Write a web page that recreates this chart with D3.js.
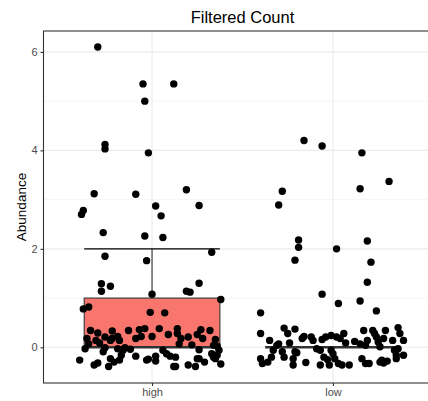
<!DOCTYPE html>
<html>
<head>
<meta charset="utf-8">
<script src="https://cdn.jsdelivr.net/npm/d3@7"></script>
<style>
  body { margin: 0; background: #fff; }
  text { font-family: "Liberation Sans", Arial, sans-serif; }
</style>
</head>
<body>
<svg id="chart" width="428" height="401"></svg>
<script>
/* Boxplot with jittered points: filtered count by group */
let categories = ["high", "low"];
let yTicks = [0, 2, 4, 6];
let yMinor = [1, 3, 5];

// box stats per group: [lower whisker, q1, median, q3, upper whisker]
let boxHigh = [0, 0, 0, 1, 2];
let boxLow = [0, 0, 0, 0, 0];

// jittered points: [horizontal jitter (category units), abundance]
let pointsHigh = [
  [-0.30, 6.10], [-0.05, 5.35], [0.12, 5.35], [-0.04, 5.00], [-0.26, 4.12], [-0.26, 4.03],
  [-0.02, 3.95], [-0.32, 3.12], [-0.09, 3.11], [0.19, 3.20], [-0.38, 2.78], [-0.39, 2.70],
  [0.02, 2.87], [0.26, 2.88], [0.05, 2.67], [-0.27, 2.33], [-0.04, 2.26], [0.06, 2.23],
  [-0.26, 1.85], [-0.03, 1.76], [0.33, 1.93], [-0.28, 1.29], [-0.28, 1.14], [-0.23, 1.24],
  [0.00, 1.08], [0.19, 1.14], [0.21, 1.12], [0.26, 1.30], [0.38, 0.97], [-0.35, 0.82],
  [-0.38, 0.78], [-0.01, 0.71], [0.07, 0.70],
  [-0.34, 0.34], [-0.30, 0.29], [-0.36, 0.18], [-0.35, 0.07], [-0.37, -0.03], [-0.31, 0.14],
  [-0.29, 0.09], [-0.26, 0.21], [-0.26, -0.01], [-0.22, 0.33], [-0.22, 0.18], [-0.19, 0.22],
  [-0.18, 0.14], [-0.23, 0.14], [-0.13, 0.34], [-0.09, 0.18], [-0.07, 0.36], [-0.06, 0.22],
  [-0.04, 0.38], [0.00, 0.22], [0.04, 0.38], [0.09, 0.26], [0.14, 0.38], [0.14, 0.28],
  [0.15, 0.07], [0.16, 0.18], [0.20, 0.21], [0.22, 0.05], [0.25, 0.26], [0.27, 0.36],
  [0.28, 0.18], [0.26, -0.05], [0.32, 0.34], [0.35, 0.16], [0.36, 0.02], [0.37, -0.06],
  [0.34, 0.04],
  [-0.40, -0.26], [-0.32, -0.36], [-0.30, -0.32], [-0.27, -0.09], [-0.24, -0.39], [-0.23, -0.23],
  [-0.21, -0.30], [-0.18, -0.26], [-0.17, -0.16], [-0.16, -0.06], [-0.19, -0.03], [-0.15, -0.01],
  [-0.12, -0.04], [-0.09, -0.18], [-0.03, -0.26], [-0.02, -0.24], [0.02, -0.18], [0.02, -0.28],
  [0.06, -0.06], [0.08, -0.13], [0.10, -0.18], [0.12, -0.39], [0.13, -0.39], [0.13, -0.20],
  [0.20, -0.36], [0.24, -0.39], [0.25, -0.23], [0.26, -0.23], [0.29, -0.30], [0.33, -0.13],
  [0.34, -0.20], [0.35, -0.23], [0.36, -0.16], [0.38, -0.34]
];
let pointsLow = [
  [-0.16, 4.20], [-0.06, 4.09], [0.16, 3.95], [0.31, 3.37], [0.15, 3.22], [-0.28, 3.17],
  [-0.30, 2.89], [-0.19, 2.18], [-0.19, 2.03], [-0.21, 1.77], [0.02, 2.00], [0.19, 2.16],
  [0.21, 1.73], [0.19, 1.32], [-0.06, 1.08], [0.03, 0.89], [0.15, 0.94], [0.24, 0.74],
  [-0.40, 0.70],
  [-0.40, 0.28], [-0.35, 0.14], [-0.40, -0.23], [-0.39, -0.33], [-0.36, -0.30], [-0.34, -0.20],
  [-0.33, -0.06], [-0.31, 0.04], [-0.30, 0.07], [-0.27, 0.39], [-0.24, 0.09], [-0.25, 0.28],
  [-0.21, 0.37], [-0.28, -0.09], [-0.27, -0.20], [-0.22, -0.23], [-0.21, -0.09], [-0.20, -0.11],
  [-0.22, -0.36], [-0.15, -0.31], [-0.17, 0.18], [-0.16, 0.22], [-0.12, 0.21], [-0.11, 0.14],
  [-0.09, -0.03], [-0.07, -0.06], [-0.06, 0.16], [-0.05, -0.20], [-0.07, -0.36], [-0.04, 0.21],
  [-0.03, -0.25], [-0.02, -0.36], [-0.01, 0.24], [-0.01, -0.06], [0.00, -0.13], [0.01, -0.23],
  [0.02, 0.21], [0.04, 0.18], [0.03, -0.33], [0.05, -0.36], [0.06, 0.28], [0.07, 0.09],
  [0.09, -0.36], [0.12, 0.12], [0.15, 0.07], [0.16, -0.23], [0.17, 0.34], [0.18, 0.04],
  [0.19, 0.14], [0.18, -0.33], [0.20, -0.33], [0.22, 0.34], [0.23, 0.28], [0.24, 0.21],
  [0.25, 0.11], [0.26, 0.01], [0.26, -0.30], [0.27, -0.26], [0.28, 0.18], [0.29, 0.34],
  [0.28, -0.32], [0.30, -0.28], [0.33, 0.14], [0.34, -0.06], [0.35, -0.16], [0.36, -0.03],
  [0.36, 0.40], [0.37, 0.28], [0.39, -0.16], [0.39, 0.14], [0.35, -0.23]
];

let svg = d3.select("#chart");

let panelLeft = 43.5, panelRight = 441.5, panelTop = 31, panelBottom = 383;

let x = d3.scalePoint()
    .domain(categories)
    .range([panelLeft, panelRight])
    .padding(0.6);
let step = x.step();

let y = d3.scaleLinear()
    .domain([-0.725, 6.425])
    .range([panelBottom, panelTop]);

// panel grid
let grid = svg.append("g");
grid.selectAll(".minor")
    .data(yMinor)
    .enter().append("line")
    .attr("x1", panelLeft).attr("x2", panelRight)
    .attr("y1", d => y(d)).attr("y2", d => y(d))
    .attr("stroke", "#ebebeb")
    .attr("stroke-width", 0.55);
grid.selectAll(".major")
    .data(yTicks)
    .enter().append("line")
    .attr("x1", panelLeft).attr("x2", panelRight)
    .attr("y1", d => y(d)).attr("y2", d => y(d))
    .attr("stroke", "#ebebeb")
    .attr("stroke-width", 1.1);
grid.selectAll(".vmajor")
    .data(categories)
    .enter().append("line")
    .attr("x1", d => x(d)).attr("x2", d => x(d))
    .attr("y1", panelTop).attr("y2", panelBottom)
    .attr("stroke", "#ebebeb")
    .attr("stroke-width", 1.1);

// boxplots
let boxes = [
  {cat: "high", s: boxHigh, fill: "#F8766D"},
  {cat: "low", s: boxLow, fill: "#00BFC4"}
];
let bw = step * 0.75;
boxes.forEach(function(b) {
    let cx = x(b.cat);
    let g = svg.append("g");
    // whiskers
    g.append("line")
        .attr("x1", cx).attr("x2", cx)
        .attr("y1", y(b.s[3])).attr("y2", y(b.s[4]))
        .attr("stroke", "#333333").attr("stroke-width", 1.1);
    g.append("line")
        .attr("x1", cx).attr("x2", cx)
        .attr("y1", y(b.s[1])).attr("y2", y(b.s[0]))
        .attr("stroke", "#333333").attr("stroke-width", 1.1);
    // error bar cap at upper whisker
    if (b.s[4] > b.s[3]) {
        g.append("line")
            .attr("x1", cx - bw / 2).attr("x2", cx + bw / 2)
            .attr("y1", y(b.s[4])).attr("y2", y(b.s[4]))
            .attr("stroke", "#000").attr("stroke-width", 1.1);
    }
    g.append("rect")
        .attr("x", cx - bw / 2)
        .attr("width", bw)
        .attr("y", y(b.s[3]))
        .attr("height", y(b.s[1]) - y(b.s[3]))
        .attr("fill", b.fill)
        .attr("stroke", "#333333")
        .attr("stroke-width", 1.1);
    g.append("line")
        .attr("x1", cx - bw / 2).attr("x2", cx + bw / 2)
        .attr("y1", y(b.s[2])).attr("y2", y(b.s[2]))
        .attr("stroke", "#333333").attr("stroke-width", 2.6);
});

// jittered points
let pts = pointsHigh.map(d => ({cat: "high", dx: d[0], v: d[1]}))
    .concat(pointsLow.map(d => ({cat: "low", dx: d[0], v: d[1]})));
svg.append("g")
    .selectAll("circle")
    .data(pts)
    .enter().append("circle")
    .attr("cx", d => x(d.cat) + d.dx * step)
    .attr("cy", d => y(d.v))
    .attr("r", 3.7)
    .attr("fill", "#000");

// panel border
svg.append("rect")
    .attr("x", panelLeft).attr("y", panelTop)
    .attr("width", panelRight - panelLeft).attr("height", panelBottom - panelTop)
    .attr("fill", "none")
    .attr("stroke", "#333333")
    .attr("stroke-width", 1.1);

// axes
let yAxis = svg.append("g")
    .attr("transform", "translate(" + panelLeft + ",0)")
    .call(d3.axisLeft(y).tickValues(yTicks).tickSize(3).tickPadding(3));
let xAxis = svg.append("g")
    .attr("transform", "translate(0," + panelBottom + ")")
    .call(d3.axisBottom(x).tickSize(3).tickPadding(2));
[yAxis, xAxis].forEach(function(a) {
    a.select(".domain").remove();
    a.selectAll(".tick line").attr("stroke", "#333333").attr("stroke-width", 1.1);
    a.selectAll(".tick text")
        .attr("fill", "#4d4d4d")
        .style("font-size", "11px")
        .style("font-family", "'Liberation Sans', Arial, sans-serif");
});

// labels
svg.append("text")
    .attr("x", (panelLeft + panelRight) / 2)
    .attr("y", 23)
    .attr("text-anchor", "middle")
    .style("font-size", "16.5px")
    .attr("fill", "#000")
    .text("Filtered Count");

svg.append("text")
    .attr("transform", "translate(26," + (panelTop + panelBottom) / 2 + ") rotate(-90)")
    .attr("text-anchor", "middle")
    .style("font-size", "13.5px")
    .attr("fill", "#000")
    .text("Abundance");
</script>
</body>
</html>
